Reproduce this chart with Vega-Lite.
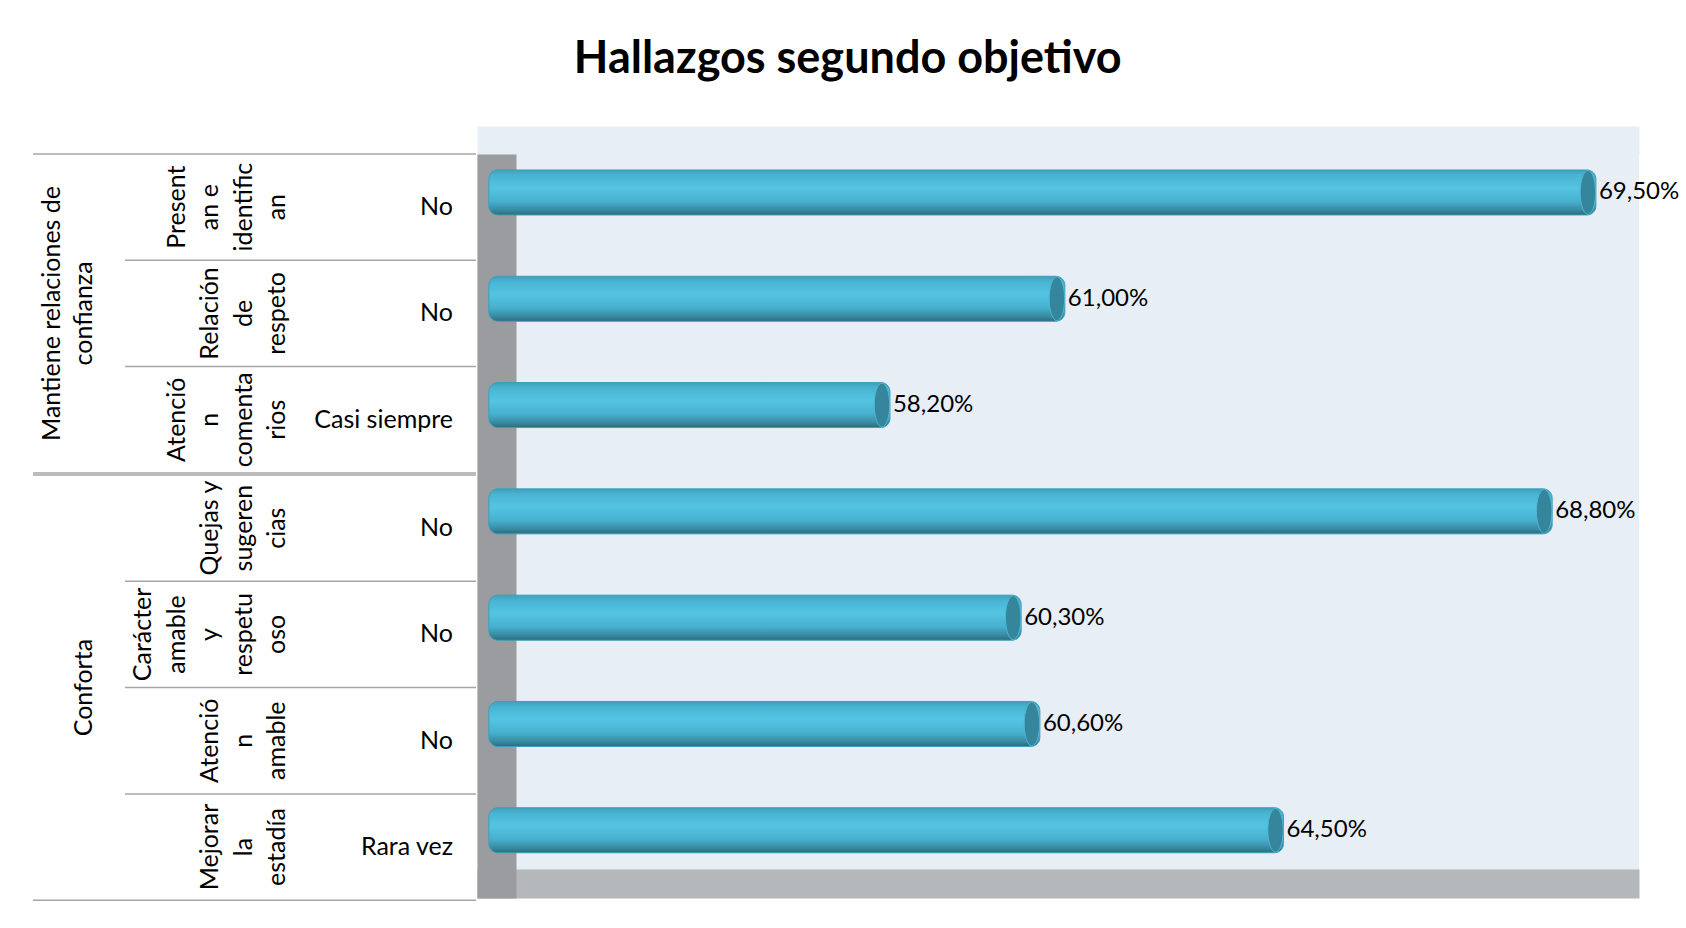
{
  "$schema": "https://vega.github.io/schema/vega-lite/v6.json",
  "background": "white",
  "padding": {"left": 32, "top": 36, "right": 0, "bottom": 0},
  "title": {"text": "Hallazgos segundo objetivo", "fontSize": 45, "fontWeight": "bold", "font": "Lato", "color": "#000000", "anchor": "middle", "offset": 57.5, "dx": -8},
  "datasets": {
    "hallazgos": [
      {"grupo": "Mantiene relaciones de\nconfianza", "item": "Present\nan e\nidentific\nan", "respuesta": "No", "valor": 0.695},
      {"grupo": "Mantiene relaciones de\nconfianza", "item": "Relación\nde\nrespeto", "respuesta": "No", "valor": 0.61},
      {"grupo": "Mantiene relaciones de\nconfianza", "item": "Atenció\nn\ncomenta\nrios", "respuesta": "Casi siempre", "valor": 0.582},
      {"grupo": "Conforta", "item": "Quejas y\nsugeren\ncias", "respuesta": "No", "valor": 0.688},
      {"grupo": "Conforta", "item": "Carácter\namable\ny\nrespetu\noso", "respuesta": "No", "valor": 0.603},
      {"grupo": "Conforta", "item": "Atenció\nn\namable", "respuesta": "No", "valor": 0.606},
      {"grupo": "Conforta", "item": "Mejorar\nla\nestadía", "respuesta": "Rara vez", "valor": 0.645}
    ]
  },
  "spacing": 0,
  "hconcat": [
    {
      "data": {"name": "hallazgos"},
      "facet": {"row": {"field": "grupo", "type": "nominal", "sort": ["Mantiene relaciones de\nconfianza", "Conforta"], "header": {"title": null, "labels": false}}},
      "spacing": 0,
      "resolve": {"scale": {"y": "independent"}},
      "spec": {
        "width": 443,
        "height": {"step": 106.3},
        "layer": [
          {
            "mark": {"type": "text", "align": "right", "baseline": "middle", "fontSize": 25, "color": "#000000"},
            "encoding": {
              "text": {"field": "respuesta", "type": "nominal"},
              "x": {"datum": "respuesta", "bandPosition": 0.869, "scale": {"type": "band", "domain": ["ítem", "respuesta"], "paddingInner": 0, "paddingOuter": 0.262, "align": 1},
                    "axis": {"orient": "top", "offset": 14, "domainWidth": 28, "domainColor": "#ffffff", "labels": false, "ticks": false, "grid": false, "title": null}},
              "y": {"field": "item", "type": "nominal", "sort": null, "scale": {"type": "band", "paddingInner": 0, "paddingOuter": 0}, "axis": null}
            }
          },
          {
            "transform": [{"filter": "split(datum.item, '\\n').length === 3"}],
            "mark": {"type": "text", "angle": 270, "align": "center", "baseline": "bottom", "lineBreak": "\n", "lineHeight": 33.6, "fontSize": 25, "color": "#000000"},
            "encoding": {
              "text": {"field": "item", "type": "nominal"},
              "x": {"datum": "ítem", "bandPosition": 0.5595},
              "y": {"field": "item", "type": "nominal", "sort": null, "scale": {"type": "band", "paddingInner": 0, "paddingOuter": 0}, "axis": null}
            }
          },
          {
            "transform": [{"filter": "split(datum.item, '\\n').length === 4"}],
            "mark": {"type": "text", "angle": 270, "align": "center", "baseline": "bottom", "lineBreak": "\n", "lineHeight": 33.6, "fontSize": 25, "color": "#000000"},
            "encoding": {
              "text": {"field": "item", "type": "nominal"},
              "x": {"datum": "ítem", "bandPosition": 0.368},
              "y": {"field": "item", "type": "nominal", "sort": null, "scale": {"type": "band", "paddingInner": 0, "paddingOuter": 0}, "axis": null}
            }
          },
          {
            "transform": [{"filter": "split(datum.item, '\\n').length === 5"}],
            "mark": {"type": "text", "angle": 270, "align": "center", "baseline": "bottom", "lineBreak": "\n", "lineHeight": 33.6, "fontSize": 25, "color": "#000000"},
            "encoding": {
              "text": {"field": "item", "type": "nominal"},
              "x": {"datum": "ítem", "bandPosition": 0.1766},
              "y": {"field": "item", "type": "nominal", "sort": null, "scale": {"type": "band", "paddingInner": 0, "paddingOuter": 0}, "axis": null}
            }
          },
          {
            "transform": [
              {"window": [{"op": "row_number", "as": "fila"}, {"op": "count", "as": "total"}], "groupby": ["grupo"], "frame": [null, null]},
              {"filter": "datum.total % 2 === 1 && datum.fila === (datum.total + 1) / 2 && split(datum.grupo, '\\n').length === 2"}
            ],
            "mark": {"type": "text", "angle": 270, "align": "center", "baseline": "bottom", "lineBreak": "\n", "lineHeight": 32, "fontSize": 25, "color": "#000000"},
            "encoding": {
              "text": {"field": "grupo", "type": "nominal"},
              "x": {"datum": "ítem", "bandPosition": -0.342},
              "y": {"field": "item", "type": "nominal", "sort": null, "bandPosition": 0.5, "scale": {"type": "band", "paddingInner": 0, "paddingOuter": 0}, "axis": null}
            }
          },
          {
            "transform": [
              {"window": [{"op": "row_number", "as": "fila"}, {"op": "count", "as": "total"}], "groupby": ["grupo"], "frame": [null, null]},
              {"filter": "datum.total % 2 === 1 && datum.fila === (datum.total + 1) / 2 && split(datum.grupo, '\\n').length === 1"}
            ],
            "mark": {"type": "text", "angle": 270, "align": "center", "baseline": "bottom", "lineBreak": "\n", "lineHeight": 32, "fontSize": 25, "color": "#000000"},
            "encoding": {
              "text": {"field": "grupo", "type": "nominal"},
              "x": {"datum": "ítem", "bandPosition": -0.16},
              "y": {"field": "item", "type": "nominal", "sort": null, "bandPosition": 0.5, "scale": {"type": "band", "paddingInner": 0, "paddingOuter": 0}, "axis": null}
            }
          },
          {
            "transform": [
              {"window": [{"op": "row_number", "as": "fila"}, {"op": "count", "as": "total"}], "groupby": ["grupo"], "frame": [null, null]},
              {"filter": "datum.total % 2 === 0 && datum.fila === datum.total / 2 && split(datum.grupo, '\\n').length === 2"}
            ],
            "mark": {"type": "text", "angle": 270, "align": "center", "baseline": "bottom", "lineBreak": "\n", "lineHeight": 32, "fontSize": 25, "color": "#000000"},
            "encoding": {
              "text": {"field": "grupo", "type": "nominal"},
              "x": {"datum": "ítem", "bandPosition": -0.342},
              "y": {"field": "item", "type": "nominal", "sort": null, "bandPosition": 1, "scale": {"type": "band", "paddingInner": 0, "paddingOuter": 0}, "axis": null}
            }
          },
          {
            "transform": [
              {"window": [{"op": "row_number", "as": "fila"}, {"op": "count", "as": "total"}], "groupby": ["grupo"], "frame": [null, null]},
              {"filter": "datum.total % 2 === 0 && datum.fila === datum.total / 2 && split(datum.grupo, '\\n').length === 1"}
            ],
            "mark": {"type": "text", "angle": 270, "align": "center", "baseline": "bottom", "lineBreak": "\n", "lineHeight": 32, "fontSize": 25, "color": "#000000"},
            "encoding": {
              "text": {"field": "grupo", "type": "nominal"},
              "x": {"datum": "ítem", "bandPosition": -0.16},
              "y": {"field": "item", "type": "nominal", "sort": null, "bandPosition": 1, "scale": {"type": "band", "paddingInner": 0, "paddingOuter": 0}, "axis": null}
            }
          },
          {
            "transform": [
              {"window": [{"op": "row_number", "as": "fila"}, {"op": "count", "as": "total"}], "groupby": ["grupo"], "frame": [null, null]},
              {"filter": "datum.fila === 1"}
            ],
            "mark": {"type": "rule", "color": "#A6A6A6", "strokeWidth": 1.5},
            "encoding": {
              "y": {"field": "item", "type": "nominal", "sort": null, "bandPosition": 0, "scale": {"type": "band", "paddingInner": 0, "paddingOuter": 0}, "axis": null}
            }
          },
          {
            "transform": [
              {"window": [{"op": "row_number", "as": "fila"}, {"op": "count", "as": "total"}], "groupby": ["grupo"], "frame": [null, null]},
              {"filter": "datum.fila === datum.total"}
            ],
            "mark": {"type": "rule", "color": "#A6A6A6", "strokeWidth": 1.5},
            "encoding": {
              "y": {"field": "item", "type": "nominal", "sort": null, "bandPosition": 1, "scale": {"type": "band", "paddingInner": 0, "paddingOuter": 0}, "axis": null}
            }
          },
          {
            "transform": [
              {"window": [{"op": "row_number", "as": "fila"}], "groupby": ["grupo"]},
              {"filter": "datum.fila > 1"}
            ],
            "mark": {"type": "rule", "color": "#A6A6A6", "strokeWidth": 1.5},
            "encoding": {
              "y": {"field": "item", "type": "nominal", "sort": null, "bandPosition": 0, "scale": {"type": "band", "paddingInner": 0, "paddingOuter": 0}, "axis": null},
              "x": {"datum": "ítem", "bandPosition": 0},
              "x2": {"datum": "respuesta", "bandPosition": 1}
            }
          }
        ]
      }
    },
    {
      "data": {"name": "hallazgos"},
      "width": 1162,
      "height": 744,
      "view": {"fill": "#E8EEF5", "stroke": null},
      "encoding": {
        "y": {"field": "item", "type": "nominal", "sort": null,
              "scale": {"type": "band", "paddingInner": 0.5767, "paddingOuter": 0.288, "align": 0.261},
              "axis": {"orient": "left", "offset": -19.5, "domainWidth": 39, "domainColor": "#9A9CA0", "labels": false, "ticks": false, "grid": false, "title": null}}
      },
      "layer": [
        {
          "mark": {"type": "bar", "cornerRadius": 9, "stroke": "#3E9DB8", "strokeWidth": 1,
                   "fill": {"gradient": "linear", "x1": 0, "y1": 0, "x2": 0, "y2": 1,
                            "stops": [{"offset": 0, "color": "#3F9FBB"}, {"offset": 0.12, "color": "#48B4D2"}, {"offset": 0.4, "color": "#55C4E3"}, {"offset": 0.7, "color": "#47B0CE"}, {"offset": 0.9, "color": "#37889F"}, {"offset": 1, "color": "#2B6A7C"}]}},
          "encoding": {
            "x": {"field": "valor", "type": "quantitative", "scale": {"domain": [0.5159, 0.7019], "zero": false, "nice": false},
                  "axis": {"orient": "top", "offset": 14, "domainWidth": 28, "domainColor": "#E8EEF5", "labels": false, "ticks": false, "grid": false, "title": null}},
            "x2": {"datum": 0.5178}
          }
        },
        {
          "mark": {"type": "point", "shape": "M0,-1A0.35,1,0,1,1,0,1A0.35,1,0,1,1,0,-1Z", "size": 1936, "filled": true, "color": "#35869D", "opacity": 1, "xOffset": -8, "stroke": "#4FB6D3", "strokeWidth": 1},
          "encoding": {
            "x": {"field": "valor", "type": "quantitative", "scale": {"domain": [0.5159, 0.7019], "zero": false, "nice": false}, "axis": null}
          }
        },
        {
          "mark": {"type": "text", "align": "left", "baseline": "middle", "dx": 3, "fontSize": 24, "color": "#000000"},
          "encoding": {
            "x": {"field": "valor", "type": "quantitative", "scale": {"domain": [0.5159, 0.7019], "zero": false, "nice": false},
                  "axis": {"orient": "bottom", "offset": -14.5, "domainWidth": 29, "domainColor": "#B4B8BB", "labels": false, "ticks": false, "grid": false, "title": null}},
            "text": {"field": "valor", "type": "quantitative", "format": ".2%"}
          }
        }
      ],
      "resolve": {"axis": {"x": "independent"}}
    }
  ],
  "config": {
    "font": "Lato",
    "view": {"stroke": null},
    "locale": {"number": {"decimal": ",", "thousands": ".", "grouping": [3], "currency": ["", " €"]}}
  }
}
